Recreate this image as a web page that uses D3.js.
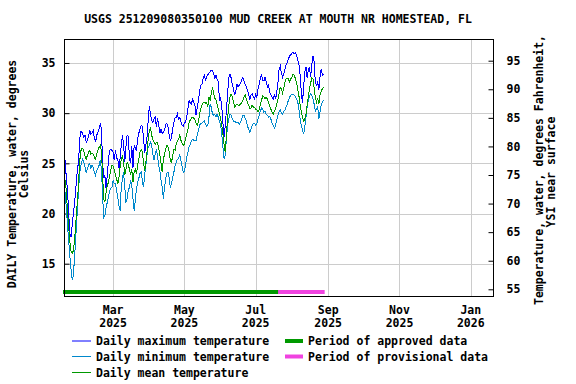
<!DOCTYPE html>
<html>
    <head>
        <meta charset="utf-8">
        <title>USGS 251209080350100 MUD CREEK</title>
        <script type="text/javascript" src="https://cdn.jsdelivr.net/npm/d3@7"></script>
        <style>
            body { margin: 0; background: #fff; }
            svg text { font-family: "DejaVu Sans Mono", monospace; font-weight: bold; font-size: 11.5px; fill: #000; }
        </style>
    </head>

    <body>
        <svg></svg>
    </body>

    <script type="text/javascript">
        const WIDTH = 576;
        const HEIGHT = 384;

        // first day of the daily series
        const startDay = "2025-01-18";

        // Daily temperature, degrees Celsius, one value per day from startDay
        const dailyMax = [
            25.4, 25.3, 23.5, 22.3, 20.0, 18.0, 17.7, 18.8, 20.0, 21.0, 22.3, 23.8, 24.8, 26.3, 28.2,
            28.2, 27.9, 27.6, 27.8, 27.1, 27.3, 27.7, 28.3, 27.9, 28.0, 28.3, 27.5, 27.1, 27.8, 28.1, 28.4, 28.9, 28.5,
            25.2, 23.5, 23.8, 22.5, 23.8, 25.3, 26.3, 26.4, 26.3, 26.1, 25.3, 26.3, 25.5, 25.4, 24.5, 25.5, 26.8, 27.8, 26.8, 25.1, 26.7, 27.8, 27.7, 25.5,
            25.0, 26.7, 24.5, 26.8, 26.5, 26.2, 27.5, 28.0, 28.4, 28.8, 28.7, 27.6, 26.0, 26.8, 27.6, 29.2, 30.7, 29.8, 29.3, 29.1, 29.4, 29.6, 28.6, 29.5,
            28.9, 28.0, 28.4, 28.0, 28.1, 28.3, 28.9, 29.0, 28.6, 27.8, 27.2, 27.6, 28.5, 29.1, 29.5, 29.6, 29.9, 29.4, 29.6, 29.2, 28.8, 28.7, 29.0, 29.1, 29.6,
            30.4, 31.3, 31.0, 30.9, 31.4, 31.1, 30.8, 29.8, 30.6, 31.2, 32.2, 32.8, 32.9, 33.4, 33.8, 33.3, 33.6, 33.8, 34.0,
            34.1, 34.3, 34.3, 33.9, 33.5, 33.8, 33.4, 33.1, 31.3, 31.5, 30.6, 29.0, 27.6, 28.8, 30.4, 32.0, 33.5, 33.9, 33.5, 32.8, 32.4, 31.8, 32.2, 32.9, 32.6, 32.8,
            33.0, 33.3, 33.6, 33.2, 32.9, 32.6, 32.3, 31.8, 31.4, 31.8, 31.9, 31.6, 31.4, 31.9, 31.6, 32.4, 32.9, 33.5, 33.8, 33.3, 33.2, 33.6, 33.1, 32.6, 32.8,
            32.1, 31.8, 31.6, 31.4, 31.9, 31.4, 32.1, 33.0, 34.4, 34.7, 34.0, 33.6, 33.9, 34.4, 34.8, 35.1, 35.4, 35.7, 35.8, 36.0,
            36.1, 35.9, 36.0, 35.7, 35.3, 34.8, 33.8, 32.1, 31.0, 32.6, 34.1, 34.6, 33.5, 34.3, 34.6, 33.6, 34.8, 35.7, 35.1, 33.1, 32.8, 33.1, 32.3, 33.6, 34.4, 33.8, 33.9
        ];
        const dailyMin = [
            23.0, 22.0, 20.5, 18.8, 17.3, 15.8, 14.5, 13.4, 13.8, 15.6, 17.5, 19.5, 21.5, 23.3, 24.6, 25.1,
            25.4, 25.1, 24.6, 24.1, 24.5, 24.8, 25.0, 24.5, 24.8, 24.6, 24.1, 23.8, 24.3, 24.5, 24.8, 25.3, 24.5,
            21.8, 19.6, 19.8, 20.6, 21.1, 21.6, 22.3, 22.5, 22.6, 23.3, 23.0, 23.0, 22.3, 21.6, 20.8, 20.3, 22.6, 23.5, 24.1, 22.6, 21.1, 21.5, 22.3, 22.6,
            23.3, 22.8, 21.5, 20.3, 21.3, 22.5, 23.1, 23.5, 24.0, 24.1, 23.3, 22.6, 23.8, 24.8, 25.8, 26.6, 26.8, 27.1, 26.8, 25.9, 25.3, 25.9, 26.4, 25.8,
            24.8, 24.3, 23.3, 22.6, 21.5, 22.6, 23.5, 24.0, 24.1, 23.5, 22.6, 23.0, 23.6, 24.1, 24.8, 25.1, 25.4, 25.5, 25.8, 25.3, 24.7, 24.1, 24.2, 24.8, 25.6,
            26.1, 26.7, 26.9, 27.2, 27.4, 27.3, 27.3, 27.3, 27.8, 28.3, 28.8, 29.0, 29.0, 29.1, 29.2, 28.9, 28.7, 28.8, 29.6,
            30.9, 30.6, 29.9, 29.8, 29.9, 29.6, 29.9, 29.6, 29.2, 28.8, 27.8, 26.6, 25.4, 25.9, 27.6, 28.8, 29.4, 29.9, 29.8, 29.4, 29.2, 29.2, 29.1, 29.0, 29.1, 28.9,
            29.1, 29.4, 29.8, 29.8, 29.5, 29.2, 28.7, 28.4, 28.1, 28.4, 28.8, 29.0, 29.0, 28.8, 29.0, 29.4, 29.8, 30.2, 30.5, 30.4, 30.1, 30.2, 29.9, 29.8, 29.6,
            29.7, 29.4, 29.0, 28.8, 28.5, 28.8, 29.3, 29.8, 30.1, 30.3, 30.0, 29.9, 30.2, 30.3, 30.6, 30.9, 31.3, 31.6, 31.8, 31.9, 31.9, 31.8, 31.6, 31.4, 31.1,
            30.4, 29.4, 28.8, 28.3, 27.9, 28.6, 29.6, 30.6, 31.3, 31.7, 31.9, 31.8, 31.4, 30.9, 30.2, 30.4, 30.7, 29.4, 30.1, 30.8, 31.1, 31.3
        ];
        const dailyMean = [
            23.8, 23.3, 22.2, 20.2, 18.7, 17.2, 16.3, 16.0, 16.3, 17.3, 18.9, 20.5, 22.2, 24.3, 26.0, 26.5,
            26.5, 26.2, 25.7, 25.4, 25.8, 26.1, 26.3, 25.9, 26.0, 25.9, 25.6, 25.4, 25.9, 26.3, 26.6, 26.8, 26.3,
            23.9, 21.4, 21.2, 22.1, 22.8, 23.1, 23.8, 24.3, 24.8, 24.7, 24.4, 23.8, 23.5, 22.9, 23.6, 24.6, 25.4, 25.7, 25.1, 23.8, 24.4, 25.1, 24.9, 24.4,
            23.8, 24.4, 23.1, 24.1, 24.4, 23.9, 24.8, 25.4, 26.1, 26.4, 26.2, 25.1, 24.2, 25.1, 26.1, 27.4, 28.3, 28.5, 27.8, 27.4, 27.1, 26.9, 27.1, 27.1,
            26.5, 25.8, 25.0, 24.1, 25.4, 25.9, 26.4, 26.8, 26.6, 26.2, 25.3, 25.1, 25.8, 26.4, 26.3, 26.9, 27.2, 27.4, 27.8, 27.3, 27.0, 26.8, 26.9, 27.5, 27.9,
            28.3, 29.1, 29.3, 29.5, 29.6, 29.5, 29.3, 29.0, 28.8, 29.1, 29.9, 30.4, 30.8, 31.0, 31.1, 31.0, 31.1, 30.6, 31.6,
            31.3, 31.9, 32.6, 32.0, 31.5, 31.3, 30.9, 30.4, 30.0, 29.4, 28.8, 27.9, 26.8, 26.1, 28.0, 29.5, 30.8, 31.6, 31.9, 31.6, 31.1, 30.6, 30.8, 30.9, 30.8, 30.8,
            30.9, 31.0, 31.3, 31.6, 31.8, 31.4, 31.0, 30.8, 30.5, 30.5, 30.8, 30.6, 30.6, 30.4, 30.3, 30.1, 30.4, 30.8, 31.3, 31.7, 31.6, 31.4, 31.6, 31.4, 31.0,
            30.7, 30.4, 30.1, 29.9, 30.2, 30.4, 30.9, 31.4, 31.9, 32.6, 32.4, 32.0, 32.5, 33.1, 33.4, 33.5, 33.4, 33.1, 33.4, 33.6, 33.9, 33.8, 33.4, 33.0, 32.3,
            31.7, 30.8, 30.2, 29.6, 29.2, 29.4, 29.9, 30.8, 31.6, 32.4, 33.0, 33.5, 33.4, 32.5, 31.6, 31.1, 31.5, 30.9, 31.8, 32.2, 32.4, 32.6
        ];

        // data-quality periods [from, to]
        const approvedPeriod = ["2025-01-18", "2025-07-21"];
        const provisionalPeriod = ["2025-07-21", "2025-08-29"];

        // axes
        const xDomain = ["2025-01-18", "2026-01-20"];
        const monthTicks = ["2025-03-01", "2025-05-01", "2025-07-01", "2025-09-01", "2025-11-01", "2026-01-01"];
        const celsiusTicks = [15, 20, 25, 30, 35];
        const fahrenheitTicks = [55, 60, 65, 70, 75, 80, 85, 90, 95];

        const title = "USGS 251209080350100 MUD CREEK AT MOUTH NR HOMESTEAD, FL";
        const legendLines = ["Daily maximum temperature", "Daily minimum temperature", "Daily mean temperature"];
        const legendBars = ["Period of approved data", "Period of provisional data"];

        // plot frame
        const LEFT = 64, RIGHT = 493, TOP = 39, BOTTOM = 296;

        const parse = d3.timeParse("%Y-%m-%d");
        const start = parse(startDay);

        var svg = d3.select("svg")
            .attr("width", WIDTH)
            .attr("height", HEIGHT);

        var x = d3.scaleTime()
            .domain(xDomain.map(parse))
            .range([LEFT, RIGHT]);

        var y = d3.scaleLinear()
            .domain([11.78, 37.39])
            .range([BOTTOM, TOP]);

        // Fahrenheit axis as drawn by the source graph
        var yF = d3.scaleLinear()
            .domain([55, 95])
            .range([289.3, 60.7]);

        // grid
        svg.append("g")
            .selectAll("line")
            .data(celsiusTicks)
            .enter()
            .append("line")
            .attr("x1", LEFT).attr("x2", RIGHT)
            .attr("y1", d => Math.round(y(d)) + 0.5)
            .attr("y2", d => Math.round(y(d)) + 0.5)
            .attr("stroke", "#cccccc");

        svg.append("g")
            .selectAll("line")
            .data(monthTicks.map(parse))
            .enter()
            .append("line")
            .attr("x1", d => Math.round(x(d)) + 0.5)
            .attr("x2", d => Math.round(x(d)) + 0.5)
            .attr("y1", TOP).attr("y2", BOTTOM)
            .attr("stroke", "#cccccc");

        // left axis
        var leftAxis = svg.append("g")
            .attr("transform", "translate(" + (LEFT + 0.5) + ",0)")
            .call(d3.axisLeft(y).tickValues(celsiusTicks).tickSizeInner(-5).tickSizeOuter(0).tickPadding(9));
        leftAxis.select(".domain").remove();
        leftAxis.selectAll("text").attr("font-family", null).attr("font-size", null);

        // right axis
        var rightAxis = svg.append("g")
            .attr("transform", "translate(" + (RIGHT + 0.5) + ",0)")
            .call(d3.axisRight(yF).tickValues(fahrenheitTicks).tickSizeInner(-5).tickSizeOuter(0).tickPadding(13));
        rightAxis.select(".domain").remove();
        rightAxis.selectAll("text").attr("font-family", null).attr("font-size", null);

        // bottom axis labels (month over year)
        var xLabels = svg.append("g")
            .selectAll("text")
            .data(monthTicks.map(parse))
            .enter()
            .append("text")
            .attr("text-anchor", "middle");
        xLabels.append("tspan")
            .attr("x", d => x(d))
            .attr("y", 314)
            .text(d3.timeFormat("%b"));
        xLabels.append("tspan")
            .attr("x", d => x(d))
            .attr("y", 327)
            .text(d3.timeFormat("%Y"));

        // daily series
        function series(values) {
            return values.map((v, i) => ({ date: d3.timeDay.offset(start, i), value: v }));
        }
        var line = d3.line()
            .x(d => x(d.date))
            .y(d => y(d.value));

        [[dailyMax, "#0000ff"], [dailyMin, "#0088cc"], [dailyMean, "#009900"]].forEach(function(s) {
            svg.append("path")
                .datum(series(s[0]))
                .attr("d", line)
                .attr("fill", "none")
                .attr("stroke", s[1])
                .attr("stroke-width", 1)
                .attr("shape-rendering", "crispEdges");
        });

        // approved / provisional bars
        [[approvedPeriod, "#009900"], [provisionalPeriod, "#f043e0"]].forEach(function(p) {
            svg.append("line")
                .attr("x1", x(parse(p[0][0])) - 1)
                .attr("x2", x(parse(p[0][1])))
                .attr("y1", 292).attr("y2", 292)
                .attr("stroke", p[1])
                .attr("stroke-width", 4);
        });

        // frame
        svg.append("rect")
            .attr("x", LEFT + 0.5).attr("y", TOP + 0.5)
            .attr("width", RIGHT - LEFT).attr("height", BOTTOM - TOP)
            .attr("fill", "none")
            .attr("stroke", "black");

        // title
        svg.append("text")
            .attr("x", 278).attr("y", 23)
            .attr("text-anchor", "middle")
            .text(title);

        // axis titles
        svg.append("text")
            .attr("transform", "translate(16,174) rotate(-90)")
            .attr("text-anchor", "middle")
            .text("DAILY Temperature, water, degrees");
        svg.append("text")
            .attr("transform", "translate(28,174) rotate(-90)")
            .attr("text-anchor", "middle")
            .text("Celsius");
        svg.append("text")
            .attr("transform", "translate(543,170) rotate(-90)")
            .attr("text-anchor", "middle")
            .text("Temperature, water, degrees Fahrenheit,");
        svg.append("text")
            .attr("transform", "translate(555,172) rotate(-90)")
            .attr("text-anchor", "middle")
            .text("YSI near surface");

        // legend
        var lineColors = ["#0000ff", "#0088cc", "#009900"];
        legendLines.forEach(function(label, i) {
            var ly = [341, 356.5, 372.5][i];
            svg.append("line")
                .attr("x1", 72).attr("x2", 91)
                .attr("y1", ly).attr("y2", ly)
                .attr("stroke", lineColors[i]);
            svg.append("text")
                .attr("x", 96).attr("y", ly + 4)
                .text(label);
        });
        var barColors = ["#009900", "#f043e0"];
        legendBars.forEach(function(label, i) {
            var ly = [341, 356.5][i];
            svg.append("line")
                .attr("x1", 285).attr("x2", 303)
                .attr("y1", ly).attr("y2", ly)
                .attr("stroke", barColors[i])
                .attr("stroke-width", 4);
            svg.append("text")
                .attr("x", 308).attr("y", ly + 4)
                .text(label);
        });
    </script>
</html>
